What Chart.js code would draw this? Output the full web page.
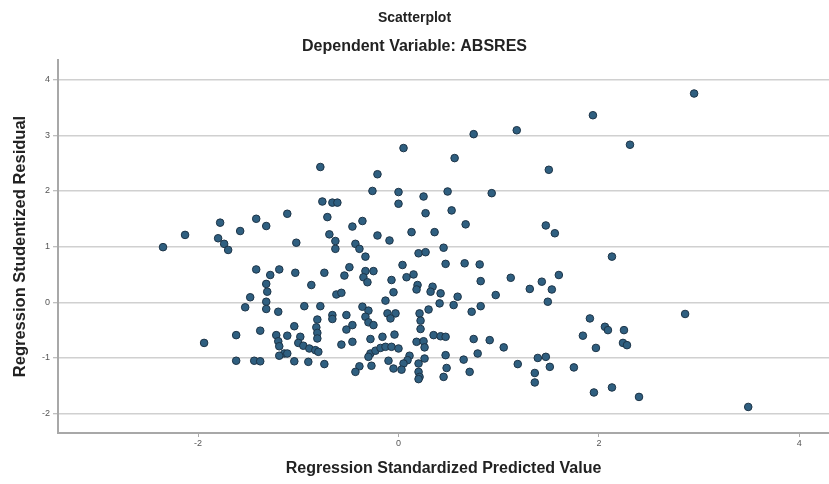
<!DOCTYPE html>
<html>
<head>
<meta charset="utf-8">
<script src="https://cdn.jsdelivr.net/npm/chart.js@4/dist/chart.umd.min.js"></script>
<style>
html,body{margin:0;padding:0;background:#fff;}
#wrap{width:829px;height:484px;}
</style>
</head>
<body>
<div id="wrap"><canvas id="c" width="829" height="484"></canvas></div>
<script>
// Regression Standardized Predicted Value (x) and Regression Studentized Residual (y)
const xValues = [
 -2.35,-2.13,-1.78,-1.80,-1.74,-1.70,-1.58,-1.42,-1.94,-1.62,
 -1.62,-1.44,-1.38,-1.48,-1.53,-1.42,-1.38,-1.32,-1.28,-1.19,
 -1.03,-1.32,-1.31,-1.32,-1.32,-1.20,-1.22,-1.20,-1.19,-1.14,
 -1.11,-1.19,-1.11,-1.04,-1.11,-1.02,-1.04,-0.94,-0.78,-0.87,
 -0.74,-0.78,-0.76,-0.66,-0.61,-0.71,-0.69,-0.63,-0.63,-0.62,
 -0.57,-0.66,-0.66,-0.81,-0.82,-0.81,-0.81,-0.98,-1.00,-0.95,
 -0.89,-0.83,-0.80,-0.90,-0.74,-0.21,-0.26,-0.36,-0.46,-0.43,
 -0.39,-0.33,-0.21,-0.09,-0.49,-0.54,-0.33,-0.25,-0.35,-0.31,
 -0.07,-0.05,-0.13,-0.36,-0.30,-0.33,-0.30,-0.25,-0.11,-0.03,
 -0.08,-0.52,-0.52,-0.46,-0.57,-0.46,-0.28,-0.16,-0.04,-0.28,
 -0.23,-0.18,-0.13,-0.07,0.00,-0.30,-0.39,-0.43,-0.27,-0.10,
 -0.05,0.00,0.00,0.05,0.25,0.49,0.27,0.53,0.67,0.13,
 0.36,0.45,0.20,0.27,0.04,0.47,0.66,0.81,0.08,0.15,
 0.82,0.19,0.18,0.34,0.32,0.42,0.59,0.41,0.55,0.82,
 0.73,0.21,0.30,0.22,0.22,0.35,0.42,0.47,0.18,0.25,
 0.26,0.75,0.91,1.05,0.79,0.11,0.09,0.05,0.20,0.26,
 0.47,0.65,0.48,0.45,0.71,0.03,0.20,0.21,0.20,0.97,
 0.56,0.75,1.18,0.93,1.12,1.31,1.43,1.53,1.60,1.49,
 1.47,1.56,1.50,1.19,1.36,1.36,1.39,1.47,1.51,1.75,
 1.91,2.06,2.09,2.25,1.84,1.97,2.24,2.28,1.95,2.13,
 2.40,3.49,2.86,2.13,2.31,1.94,2.95
];
const yValues = [
 0.99,1.21,1.43,1.15,1.05,0.94,1.28,1.50,-0.73,-0.59,
 -1.05,-1.05,-1.06,0.09,-0.09,0.59,-0.51,1.37,0.49,0.59,
 0.53,0.33,0.19,0.01,-0.12,-0.17,-0.59,-0.70,-0.79,-0.92,
 -0.92,-0.96,-0.60,-0.43,1.59,1.07,-1.06,-0.07,-0.07,0.31,
 0.53,2.43,1.81,1.79,1.79,1.53,1.22,1.10,0.96,0.14,
 0.17,-0.23,-0.30,-0.31,-0.45,-0.55,-0.65,-0.62,-0.73,-0.78,
 -0.83,-0.86,-0.89,-1.07,-1.11,2.30,2.00,1.46,1.36,1.05,
 0.96,0.82,1.20,1.11,0.63,0.48,0.56,0.56,0.45,0.36,
 0.40,0.18,0.03,-0.08,-0.15,-0.26,-0.36,-0.41,-0.20,-0.20,
 -0.29,-0.23,-0.49,-0.41,-0.76,-0.71,-0.66,-0.62,-0.58,-0.92,
 -0.87,-0.82,-0.80,-0.80,-0.83,-0.98,-1.15,-1.25,-1.14,-1.05,
 -1.19,1.98,1.77,2.77,1.90,1.99,1.60,1.65,1.40,1.26,
 1.26,0.98,0.88,0.90,0.67,0.69,0.70,0.68,0.45,0.50,
 0.38,0.31,0.23,0.28,0.19,0.16,0.10,-0.02,-0.05,-0.07,
 -0.17,-0.20,-0.13,-0.33,-0.48,-0.59,-0.61,-0.62,-0.71,-0.70,
 -0.81,-0.66,-0.68,-0.81,-0.92,-0.96,-1.04,-1.10,-1.10,-1.01,
 -0.95,-1.03,-1.18,-1.34,-1.25,-1.21,-1.25,-1.34,-1.38,0.13,
 2.59,3.02,3.09,1.96,0.44,0.24,0.37,0.23,0.49,0.01,
 1.38,1.24,2.38,-1.11,-1.27,-1.44,-1.00,-0.98,-1.16,-1.17,
 -0.29,-0.44,-0.50,-0.50,-0.60,-0.82,-0.73,-0.77,-1.62,-1.53,
 -1.70,-1.88,-0.21,0.82,2.83,3.36,3.75
];
const xTickValues = [-2, 0, 2, 4];
const yTickValues = [-2, -1, 0, 1, 2, 3, 4];
const chartTitle = 'Scatterplot';
const chartSubtitle = 'Dependent Variable: ABSRES';
const xTitle = 'Regression Standardized Predicted Value';
const yTitle = 'Regression Studentized Residual';

const points = xValues.map((x, i) => ({x: x, y: yValues[i]}));
const FONT = "'Liberation Sans', Arial, sans-serif";

new Chart(document.getElementById('c'), {
  type: 'scatter',
  data: {
    datasets: [{
      data: points,
      backgroundColor: '#2f5f80',
      borderColor: '#1d3447',
      borderWidth: 1,
      pointRadius: 3.8,
      pointHoverRadius: 3.8
    }]
  },
  options: {
    responsive: false,
    devicePixelRatio: 1,
    animation: false,
    layout: {autoPadding: false, padding: 0},
    plugins: {
      legend: {display: false},
      tooltip: {enabled: false},
      title: {
        display: true, text: chartTitle, color: '#222',
        font: {family: FONT, size: 14, weight: 'bold'},
        padding: {top: 10, bottom: 10}
      },
      subtitle: {
        display: true, text: chartSubtitle, color: '#222',
        font: {family: FONT, size: 16, weight: 'bold'},
        padding: {top: 0, bottom: 4}
      }
    },
    scales: {
      x: {
        type: 'linear', min: -3.398, max: 4.296,
        afterBuildTicks: s => { s.ticks = xTickValues.map(v => ({value: v})); },
        afterFit: s => { s.height = 51; },
        ticks: {color: '#555', font: {family: FONT, size: 9}, padding: 1},
        grid: {drawOnChartArea: false, drawTicks: true, tickLength: 4, color: '#aaa'},
        border: {color: '#a8a8a8', width: 2},
        title: {display: true, text: xTitle, color: '#222',
          font: {family: FONT, size: 16, weight: 'bold'}, padding: {top: 0, bottom: 6}}
      },
      y: {
        type: 'linear', min: -2.348, max: 4.352,
        afterBuildTicks: s => { s.ticks = yTickValues.map(v => ({value: v})); },
        afterFit: s => { s.width = 58; },
        ticks: {color: '#555', font: {family: FONT, size: 9}, padding: 3},
        grid: {color: '#d0d0d0', lineWidth: 1.5, tickLength: 5, tickColor: '#aaa', tickWidth: 1},
        border: {color: '#a8a8a8', width: 2},
        title: {display: true, text: yTitle, color: '#222',
          font: {family: FONT, size: 16.5, weight: 'bold'}, padding: {top: 11, bottom: 11}}
      }
    }
  }
});
</script>
</body>
</html>
